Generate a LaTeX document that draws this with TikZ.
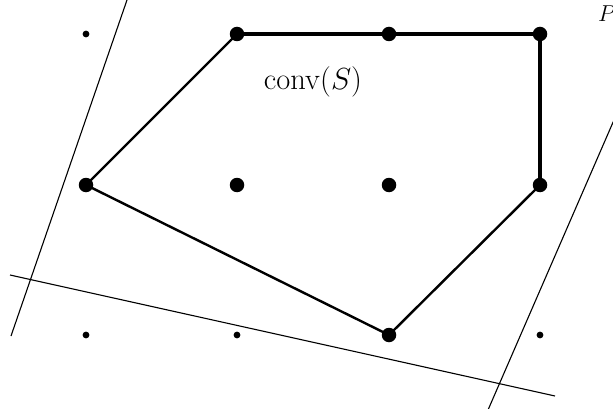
\documentclass[tikz,border=0pt]{standalone}
\usepackage{fix-cm}
\begin{document}
\begin{tikzpicture}[x=1pt,y=-1pt,
  bigdot/.style={circle,fill=black,inner sep=0pt,minimum size=14.5pt},
  smalldot/.style={circle,fill=black,inner sep=0pt,minimum size=6.8pt},
  hull thick/.style={line width=3.6pt,line cap=round},
  hull/.style={line width=2.4pt,line cap=round},
  support/.style={line width=1.1pt}]
\useasboundingbox (0,0) rectangle (613,409);
% supporting lines
\coordinate (l1) at (11,336);
\coordinate (l2) at (127,0);
\coordinate (b1) at (10,275);
\coordinate (b2) at (555,396);
\coordinate (r1) at (614,120);
\coordinate (r2) at (488,410);
\draw[support] (l1) -- (l2);
\draw[support] (b1) -- (b2);
\draw[support] (r1) -- (r2);
% points
\node[smalldot] (p00) at (86,34) {};
\node[bigdot] (p10) at (237,34) {};
\node[bigdot] (p20) at (389,34) {};
\node[bigdot] (p30) at (540,34) {};
\node[bigdot] (p01) at (86,185) {};
\node[bigdot] (p11) at (237,185) {};
\node[bigdot] (p21) at (389,185) {};
\node[bigdot] (p31) at (540,185) {};
\node[smalldot] (p02) at (86,335) {};
\node[smalldot] (p12) at (237,335) {};
\node[bigdot] (p22) at (389,335) {};
\node[smalldot] (p32) at (540,335) {};
% hull
\draw[hull thick] (p10.center) -- (p20.center) -- (p30.center) -- (p31.center);
\draw[hull] (p31.center) -- (p22.center) -- (p01.center) -- (p10.center);
% labels
\node[font=\fontsize{30.5}{36}\selectfont,inner sep=0pt] (conv) at (313,82) {$\mathrm{conv}(S)$};
\node[font=\fontsize{23}{27}\selectfont,inner sep=0pt,anchor=base west] (P) at (598,22) {$P$};
\end{tikzpicture}
\end{document}
